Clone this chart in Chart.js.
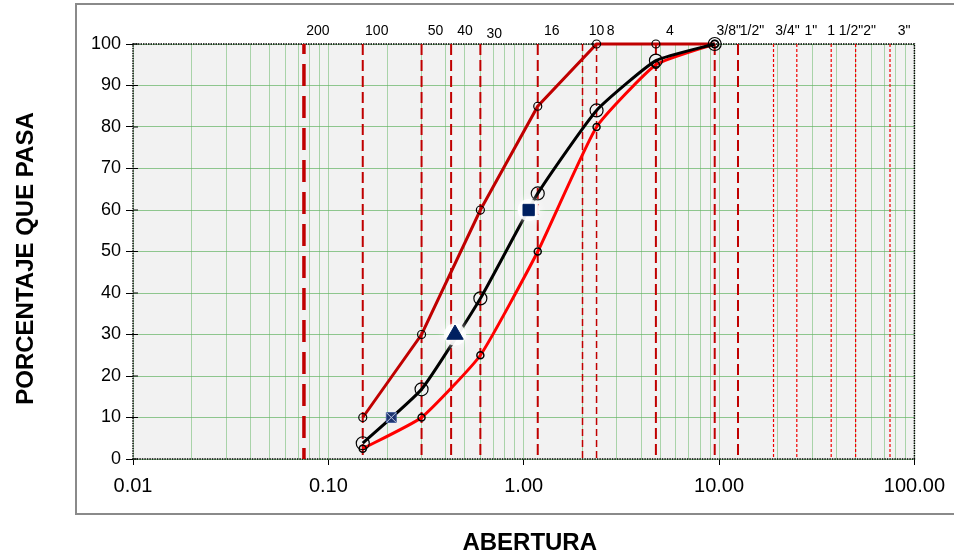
<!DOCTYPE html>
<html>
<head>
<meta charset="utf-8">
<script src="https://cdn.jsdelivr.net/npm/chart.js@4"></script>
<style>
  body { margin: 0; background: #fff; }
  canvas { display: block; }
</style>
</head>
<body>
<canvas id="granChart" width="954" height="558"></canvas>
<script>
// Granulometria - datos
const sieveNames = ["200", "100", "50", "40", "30", "16", "10", "8", "4", '3/8"', '1/2"', '3/4"', '1"', '1 1/2"', '2"', '3"'];
const sieveSizes = [0.075, 0.15, 0.3, 0.425, 0.6, 1.18, 2.0, 2.36, 4.75, 9.5, 12.5, 19, 25, 37.5, 50, 75];

const seriesSizes = [0.15, 0.3, 0.6, 1.18, 2.36, 4.75, 9.5];
const upperLimit = [10, 30, 60, 85, 100, 100, 100];
const lowerLimit = [2.5, 10, 25, 50, 80, 95, 100];
const gradation = [3.8, 16.8, 38.7, 64, 84, 96, 100];

const d10 = { x: 0.21, y: 10 };
const d30 = { x: 0.445, y: 30 };
const d60 = { x: 1.06, y: 60 };

const xMajorTicks = [0.01, 0.1, 1, 10, 100];
const xTickLabels = ["0.01", "0.10", "1.00", "10.00", "100.00"];
const yTicks = [0, 10, 20, 30, 40, 50, 60, 70, 80, 90, 100];

const colors = {
    darkRed: "rgb(192, 0, 0)",
    red: "rgb(255, 0, 0)",
    navy: "rgb(0, 32, 96)",
    steel: "rgb(30, 52, 112)",
    gridGreen: "rgba(110, 185, 110, 0.55)",
    plotBg: "#f2f2f2",
};

function pairs(xs, ys) {
    return xs.map((x, i) => ({ x: x, y: ys[i] }));
}

function sieveStyle(size) {
    if (size === 0.075) return { width: 3.5, dash: [22, 10], offset: 12, color: colors.darkRed };
    if (size >= 19) return { width: 1.2, dash: [3, 2], offset: 0, color: "rgb(240, 0, 0)" };
    if (size === 2.0 || size === 2.36) return { width: 1.5, dash: [7, 4], offset: 0, color: colors.darkRed };
    return { width: 2, dash: [11, 5], offset: 0, color: colors.darkRed };
}

// minor grid positions of the log axis
const xGridValues = [];
for (let k = -2; k < 2; k++) {
    for (let m = 1; m < 10; m++) xGridValues.push(Number((m * Math.pow(10, k)).toPrecision(3)));
}
xGridValues.push(100);

function isMajor(v) {
    return xMajorTicks.some((t) => Math.abs(t - v) < 1e-9);
}

// dashes start from the top of the plot
const sieveDatasets = sieveSizes.map((s) => {
    const st = sieveStyle(s);
    return {
        data: [{ x: s, y: 100 }, { x: s, y: 0 }],
        borderColor: st.color,
        borderWidth: st.width,
        borderDash: st.dash,
        borderDashOffset: st.offset,
        pointRadius: 0,
        order: 20,
        clip: false,
    };
});

function glowDataset(pt) {
    return {
        data: [pt],
        showLine: false,
        pointRadius: 11,
        backgroundColor: "rgba(255, 255, 255, 0.85)",
        borderWidth: 0,
        glow: true,
        order: 1.5,
        clip: false,
    };
}

const framePlugin = {
    id: "frame",
    beforeDraw(chart) {
        const { ctx, chartArea: a } = chart;
        ctx.save();
        ctx.fillStyle = "#fff";
        ctx.fillRect(0, 0, chart.width, chart.height);
        ctx.strokeStyle = "#8a8a8a";
        ctx.lineWidth = 2;
        ctx.strokeRect(76, 4, chart.width, 510);
        ctx.fillStyle = colors.plotBg;
        ctx.fillRect(a.left, a.top, a.right - a.left, a.bottom - a.top);
        ctx.restore();
    },
    beforeDatasetsDraw(chart) {
        const { ctx, chartArea: a } = chart;
        ctx.save();
        ctx.strokeStyle = "#000";
        ctx.lineWidth = 1.5;
        ctx.setLineDash([1.5, 1]);
        ctx.strokeRect(a.left, a.top, a.right - a.left, a.bottom - a.top);
        ctx.setLineDash([]);
        // y ticks cross the axis line
        const y = chart.scales.y;
        ctx.lineWidth = 1;
        yTicks.forEach((v) => {
            const py = y.getPixelForValue(v);
            ctx.beginPath();
            ctx.moveTo(a.left, py);
            ctx.lineTo(a.left + 5, py);
            ctx.stroke();
        });
        ctx.restore();
    },
    beforeDatasetDraw(chart, args) {
        if (chart.data.datasets[args.index].glow) {
            chart.ctx.save();
            chart.ctx.shadowColor = "rgba(255, 255, 255, 1)";
            chart.ctx.shadowBlur = 8;
        }
    },
    afterDatasetDraw(chart, args) {
        if (chart.data.datasets[args.index].glow) chart.ctx.restore();
    },
    afterDraw(chart) {
        const { ctx, chartArea: a } = chart;
        const x = chart.scales.x;
        ctx.save();
        ctx.fillStyle = "#000";
        ctx.textAlign = "center";
        ctx.textBaseline = "middle";
        ctx.font = "14px Arial, 'Liberation Sans', sans-serif";
        sieveNames.forEach((name, i) => {
            const px = x.getPixelForValue(sieveSizes[i]) + 14;
            ctx.fillText(name, px, name === "30" ? a.top - 10 : a.top - 13);
        });
        ctx.font = "bold 24px Arial, 'Liberation Sans', sans-serif";
        ctx.fillText("ABERTURA", (a.left + a.right) / 2 + 6, 543);
        ctx.translate(26, (a.top + a.bottom) / 2 + 7);
        ctx.rotate(-Math.PI / 2);
        ctx.font = "bold 24px Arial, 'Liberation Sans', sans-serif";
        ctx.fillText("PORCENTAJE QUE PASA", 0, 0);
        ctx.restore();
    },
};

new Chart(document.getElementById("granChart"), {
    type: "line",
    data: {
        datasets: [
            {
                label: "D60",
                data: [d60],
                showLine: false,
                pointStyle: "rect",
                pointRadius: 8,
                backgroundColor: colors.navy,
                borderColor: colors.navy,
                borderWidth: 1,
                order: 0,
                clip: false,
            },
            {
                label: "D30",
                data: [d30],
                showLine: false,
                pointStyle: "triangle",
                pointRadius: 9.5,
                backgroundColor: colors.navy,
                borderColor: colors.navy,
                borderWidth: 1,
                order: 0,
                clip: false,
            },
            {
                label: "D10 x",
                data: [d10],
                showLine: false,
                pointStyle: "crossRot",
                pointRadius: 7,
                borderColor: "rgb(190, 200, 225)",
                borderWidth: 1,
                order: 0,
                clip: false,
            },
            {
                label: "D10",
                data: [d10],
                showLine: false,
                pointStyle: "rect",
                pointRadius: 7,
                backgroundColor: colors.steel,
                borderColor: "rgb(70, 95, 155)",
                borderWidth: 1,
                order: 1,
                clip: false,
            },
            glowDataset(d60),
            glowDataset(d30),
            {
                label: "Gradacion",
                data: pairs(seriesSizes, gradation),
                borderColor: "#000",
                borderWidth: 3,
                pointRadius: 6.5,
                pointBorderColor: "#000",
                pointBorderWidth: 1.2,
                pointBackgroundColor: "rgba(0,0,0,0)",
                tension: 0.15,
                order: 2,
                clip: false,
            },
            {
                label: "Limite inferior",
                data: pairs(seriesSizes, lowerLimit),
                borderColor: colors.red,
                borderWidth: 3,
                pointRadius: 3.5,
                pointBorderColor: "#000",
                pointBorderWidth: 1.5,
                pointBackgroundColor: "rgba(0,0,0,0)",
                tension: 0.15,
                order: 3,
                clip: false,
            },
            {
                label: "Limite superior",
                data: pairs(seriesSizes, upperLimit),
                borderColor: colors.darkRed,
                borderWidth: 3,
                pointRadius: 4,
                pointBorderColor: "#000",
                pointBorderWidth: 1.2,
                pointBackgroundColor: "rgba(0,0,0,0)",
                tension: 0,
                order: 4,
                clip: false,
            },
            ...sieveDatasets,
        ],
    },
    options: {
        responsive: false,
        animation: false,
        layout: { padding: { top: 44, right: 39, left: 0, bottom: 0 } },
        plugins: {
            legend: { display: false },
            tooltip: { enabled: false },
        },
        scales: {
            x: {
                type: "logarithmic",
                min: 0.01,
                max: 100,
                afterFit(scale) { scale.height = 99; },
                afterBuildTicks(scale) {
                    scale.ticks = xGridValues.map((v) => ({ value: v }));
                },
                ticks: {
                    autoSkip: false,
                    maxRotation: 0,
                    padding: 9,
                    color: "#000",
                    font: { family: "Arial, 'Liberation Sans', sans-serif", size: 20 },
                    callback(value) {
                        const i = xMajorTicks.findIndex((t) => Math.abs(t - value) < 1e-9);
                        return i >= 0 ? xTickLabels[i] : "";
                    },
                },
                grid: {
                    color: colors.gridGreen,
                    lineWidth: 1,
                    tickLength: 6,
                    tickColor: (ctx) => (ctx.tick && isMajor(ctx.tick.value) ? "#000" : "rgba(0,0,0,0)"),
                },
                border: { display: false },
            },
            y: {
                min: 0,
                max: 100,
                afterFit(scale) { scale.width = 133; },
                afterBuildTicks(scale) {
                    scale.ticks = yTicks.map((v) => ({ value: v }));
                },
                ticks: {
                    padding: 5,
                    color: "#000",
                    font: { family: "Arial, 'Liberation Sans', sans-serif", size: 18 },
                },
                grid: {
                    color: "rgba(100, 180, 100, 0.7)",
                    lineWidth: 1,
                    tickLength: 7,
                    tickColor: "#000",
                },
                border: { display: false },
            },
        },
    },
    plugins: [framePlugin],
});
</script>
</body>
</html>
